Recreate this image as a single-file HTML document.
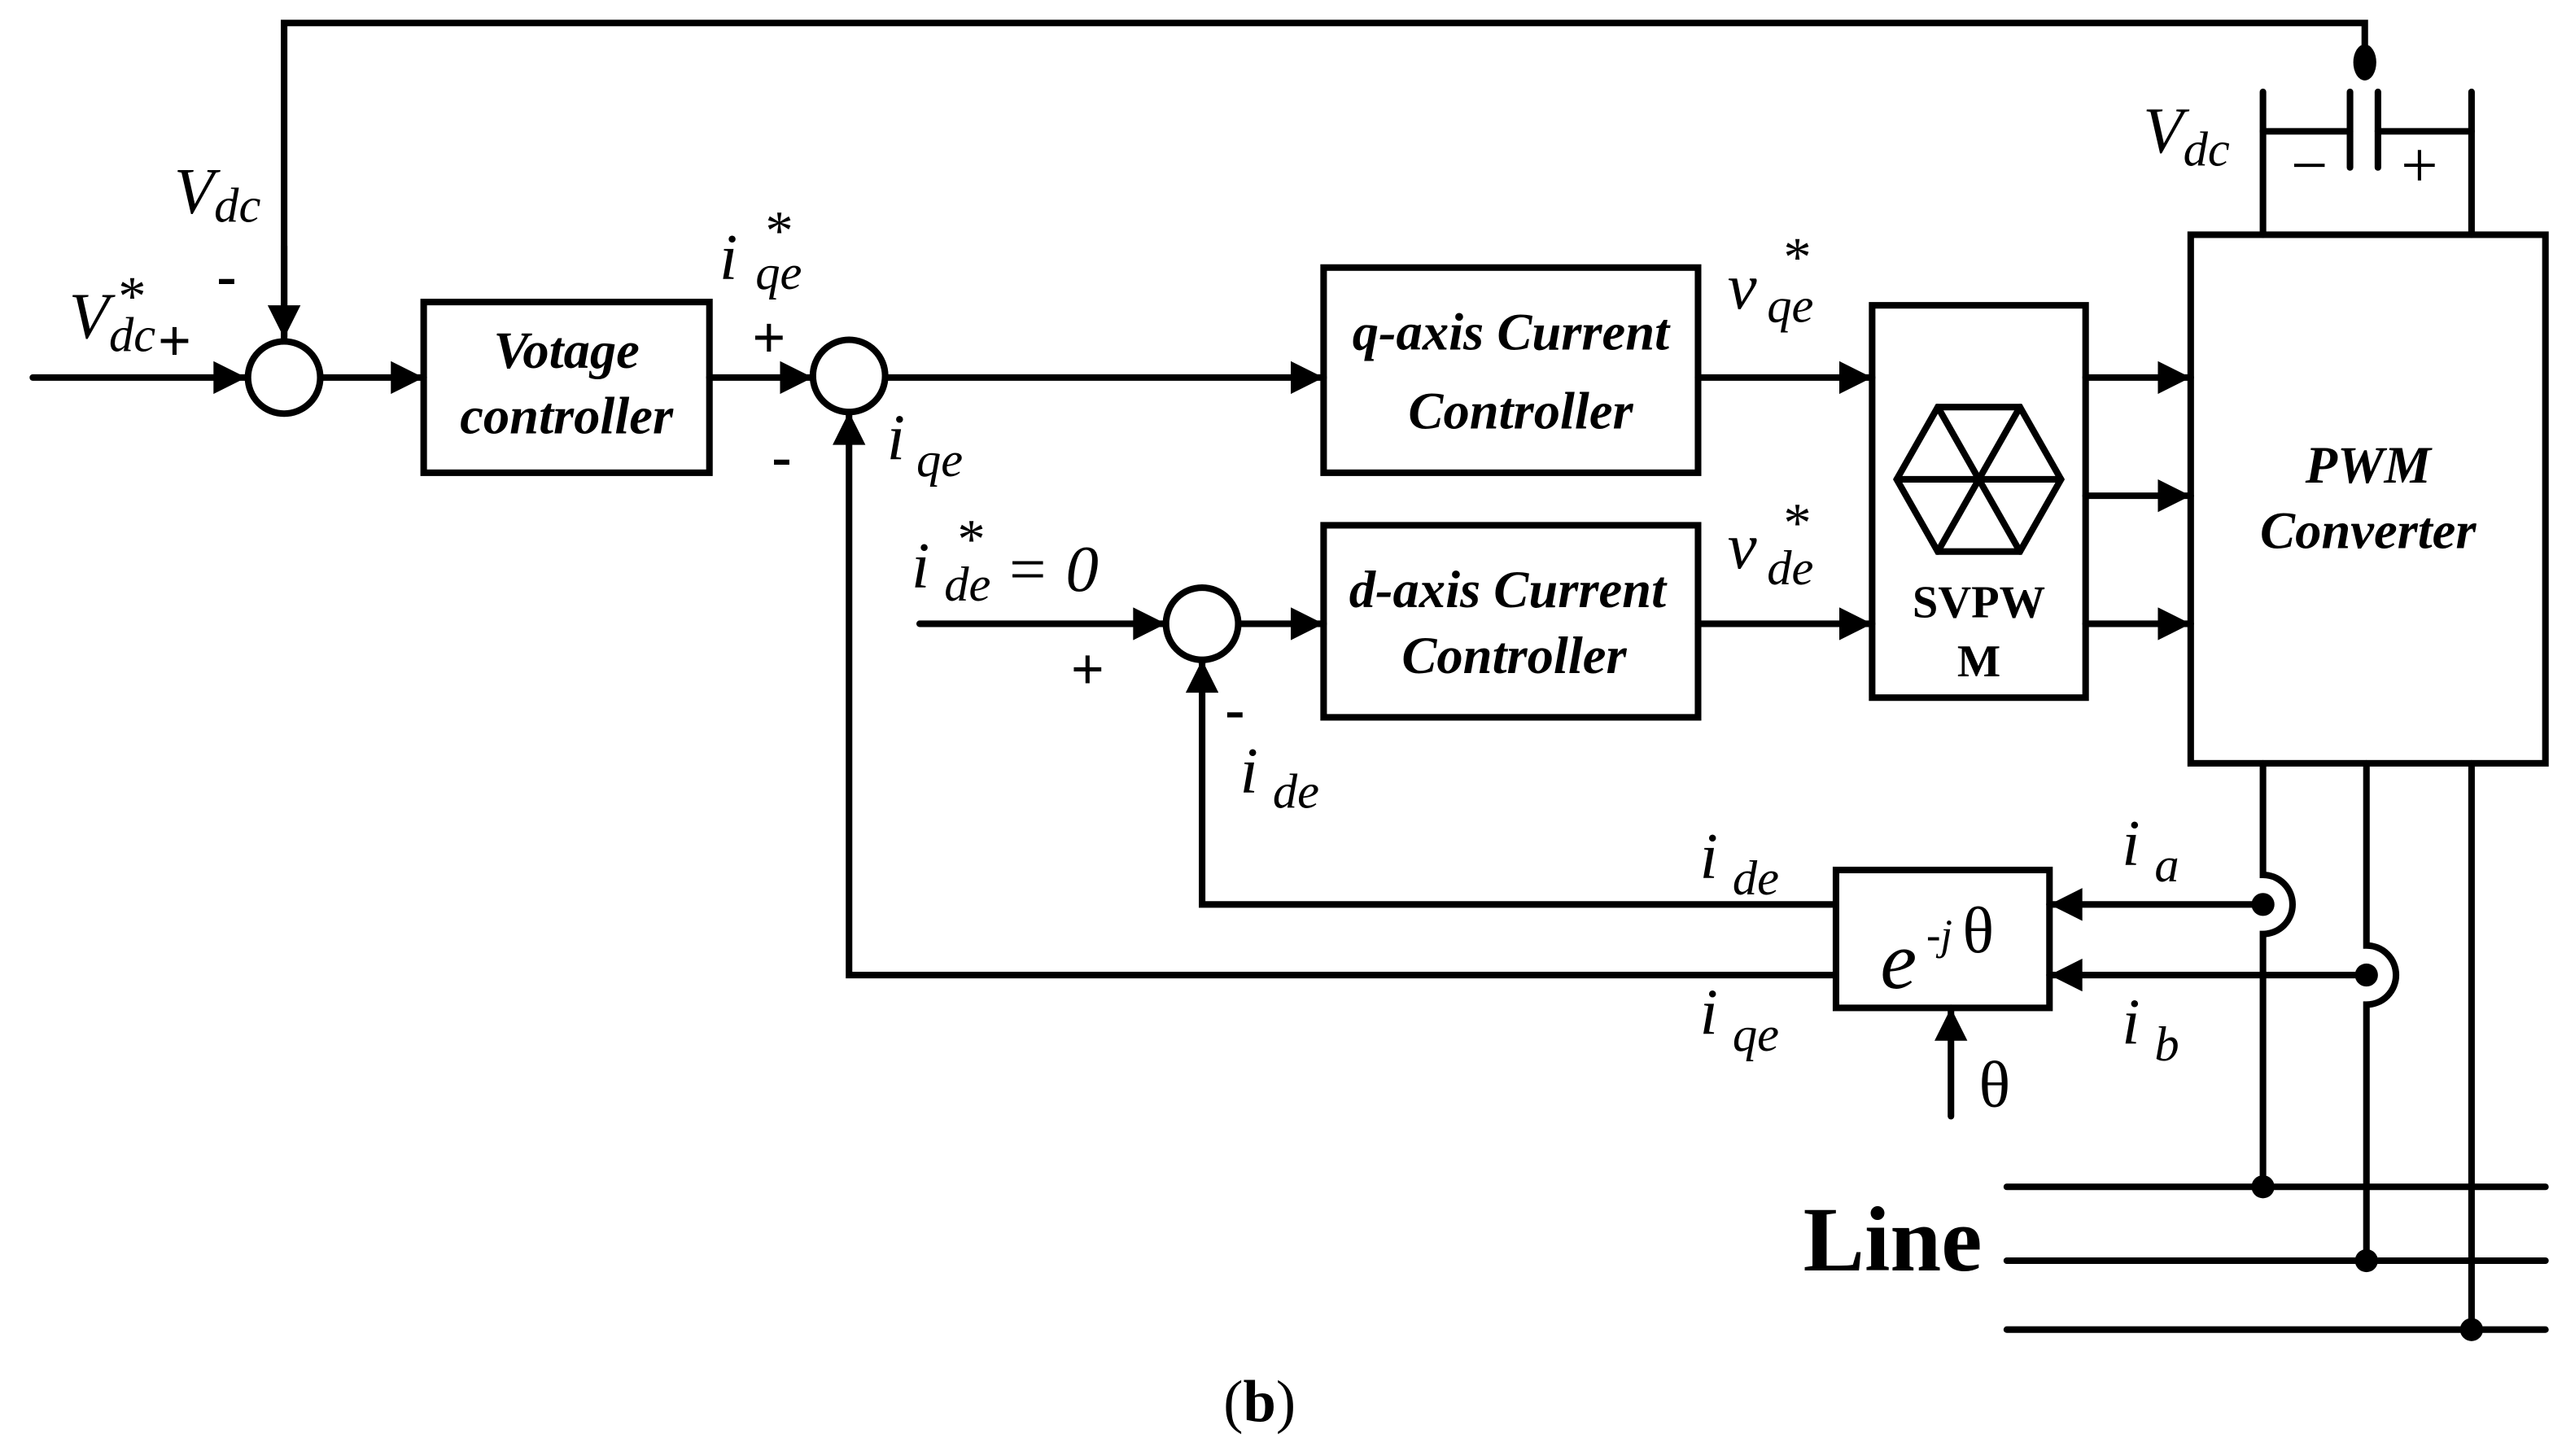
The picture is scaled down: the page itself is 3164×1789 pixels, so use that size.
<!DOCTYPE html>
<html><head><style>html,body{margin:0;padding:0;background:#fff}svg{display:block}
text{font-family:"Liberation Serif","Times New Roman",serif;fill:#000}</style></head><body>
<svg width="3164" height="1789" viewBox="0 0 1568 887" preserveAspectRatio="none" xmlns="http://www.w3.org/2000/svg">
<defs><marker id="a" viewBox="0 0 10 10" refX="10" refY="5" markerWidth="6" markerHeight="5" orient="auto" markerUnits="strokeWidth"><path d="M0,0L10,5L0,10z" fill="#000"/></marker></defs>
<g stroke="#000" stroke-width="4" fill="none" stroke-linecap="round">
<polyline points="173,205 173,14 1440,14 1440,32"/>
<line x1="173" y1="150" x2="173" y2="206" marker-end="url(#a)"/>
<line x1="1431" y1="56" x2="1431" y2="102"/><line x1="1448" y1="56" x2="1448" y2="102"/>
<polyline points="1378,143 1378,56"/><line x1="1378" y1="80" x2="1431" y2="80"/>
<polyline points="1505,143 1505,56"/><line x1="1448" y1="80" x2="1505" y2="80"/>
<rect x="1334" y="143" width="216" height="322"/>
<line x1="20" y1="230" x2="150" y2="230" marker-end="url(#a)"/>
<circle cx="173" cy="230" r="22"/>
<line x1="195" y1="230" x2="258" y2="230" marker-end="url(#a)"/>
<rect x="258" y="184" width="174" height="104"/>
<line x1="432" y1="230" x2="495" y2="230" marker-end="url(#a)"/>
<circle cx="517" cy="229" r="22"/>
<line x1="539" y1="230" x2="806" y2="230" marker-end="url(#a)"/>
<rect x="806" y="163" width="228" height="125"/>
<line x1="1034" y1="230" x2="1140" y2="230" marker-end="url(#a)"/>
<rect x="1140" y="186" width="130" height="239"/>
<line x1="1270" y1="230" x2="1334" y2="230" marker-end="url(#a)"/>
<line x1="1270" y1="302" x2="1334" y2="302" marker-end="url(#a)"/>
<line x1="1270" y1="380" x2="1334" y2="380" marker-end="url(#a)"/>
<rect x="806" y="320" width="228" height="117"/>
<line x1="1034" y1="380" x2="1140" y2="380" marker-end="url(#a)"/>
<line x1="560" y1="380" x2="710" y2="380" marker-end="url(#a)"/>
<circle cx="732" cy="380" r="22"/>
<line x1="754" y1="380" x2="806" y2="380" marker-end="url(#a)"/>
<polygon points="1155,292 1180,248 1230,248 1255,292 1230,336 1180,336"/>
<line x1="1180" y1="248" x2="1230" y2="336"/><line x1="1230" y1="248" x2="1180" y2="336"/><line x1="1155" y1="292" x2="1255" y2="292"/>
<rect x="1118" y="530" width="130" height="84"/>
<polyline points="1118,551 732,551 732,402" marker-end="url(#a)"/>
<polyline points="1118,594 517,594 517,251" marker-end="url(#a)"/>
<line x1="1188" y1="680" x2="1188" y2="614" marker-end="url(#a)"/>
<line x1="1378" y1="551" x2="1248" y2="551" marker-end="url(#a)"/>
<line x1="1441" y1="594" x2="1248" y2="594" marker-end="url(#a)"/>
<path d="M1378,465V533A18,18 0 0 1 1378,569V723"/>
<path d="M1441,465V576A18,18 0 0 1 1441,612V768"/>
<line x1="1505" y1="465" x2="1505" y2="810"/>
<line x1="1222" y1="723" x2="1550" y2="723"/><line x1="1222" y1="768" x2="1550" y2="768"/><line x1="1222" y1="810" x2="1550" y2="810"/>
</g>
<g fill="#000"><ellipse cx="1440" cy="38" rx="7" ry="11"/>
<circle cx="1378" cy="551" r="7"/><circle cx="1441" cy="594" r="7"/>
<circle cx="1378" cy="723" r="7"/><circle cx="1441" cy="768" r="7"/><circle cx="1505" cy="810" r="7"/></g>
<g font-style="italic" font-size="40">
<text x="106" y="130">V<tspan font-size="30" dy="5">dc</tspan></text>
<text x="42" y="206">V<tspan font-size="30" dy="8">dc</tspan></text>
<text x="72" y="192" font-size="34" font-style="normal">*</text>
<text x="1305" y="93">V<tspan font-size="30" dy="8">dc</tspan></text>
<text x="438" y="170">i</text><text x="460" y="176" font-size="30">qe</text><text x="466" y="152" font-size="34" font-style="normal">*</text>
<text x="540" y="280">i</text><text x="558" y="290" font-size="30">qe</text>
<text x="1052" y="188">v</text><text x="1076" y="196" font-size="30">qe</text><text x="1086" y="168" font-size="34" font-style="normal">*</text>
<text x="1052" y="346">v</text><text x="1076" y="356" font-size="30">de</text><text x="1086" y="330" font-size="34" font-style="normal">*</text>
<text x="555" y="358">i</text><text x="575" y="366" font-size="30">de</text><text x="583" y="340" font-size="34" font-style="normal">*</text><text x="612" y="360">= 0</text>
<text x="755" y="483">i</text><text x="775" y="492" font-size="30">de</text>
<text x="1035" y="535">i</text><text x="1055" y="545" font-size="30">de</text>
<text x="1035" y="630">i</text><text x="1055" y="640" font-size="30">qe</text>
<text x="1292" y="527">i</text><text x="1312" y="537" font-size="30">a</text>
<text x="1292" y="636">i</text><text x="1312" y="646" font-size="30">b</text>
<text x="1145" y="602" font-size="50">e</text><text x="1173" y="578" font-size="26">-j</text>
</g>
<g font-size="40"><text x="1195" y="580">θ</text><text x="1205" y="674">θ</text></g>
<g font-weight="bold" font-size="36">
<text x="96" y="220">+</text><text x="132" y="180">-</text>
<text x="458" y="218">+</text><text x="470" y="290">-</text>
<text x="652" y="420">+</text><text x="746" y="444">-</text>
</g>
<g font-size="40"><text x="1395" y="114">−</text><text x="1462" y="114">+</text></g>
<g font-weight="bold" font-style="italic" font-size="32" text-anchor="middle">
<text x="345" y="224">Votage</text><text x="345" y="264">controller</text>
<text x="920" y="213">q-axis Current</text><text x="926" y="261">Controller</text>
<text x="918" y="370">d-axis Current</text><text x="922" y="410">Controller</text>
<text x="1442" y="294">PWM</text><text x="1442" y="334">Converter</text>
</g>
<g font-weight="bold" font-size="28" text-anchor="middle"><text x="1205" y="376">SVPW</text><text x="1205" y="412">M</text></g>
<text x="1098" y="774" font-weight="bold" font-size="56">Line</text>
<text x="745" y="866" font-size="36">(<tspan font-weight="bold">b</tspan>)</text>
</svg>
</body></html>
